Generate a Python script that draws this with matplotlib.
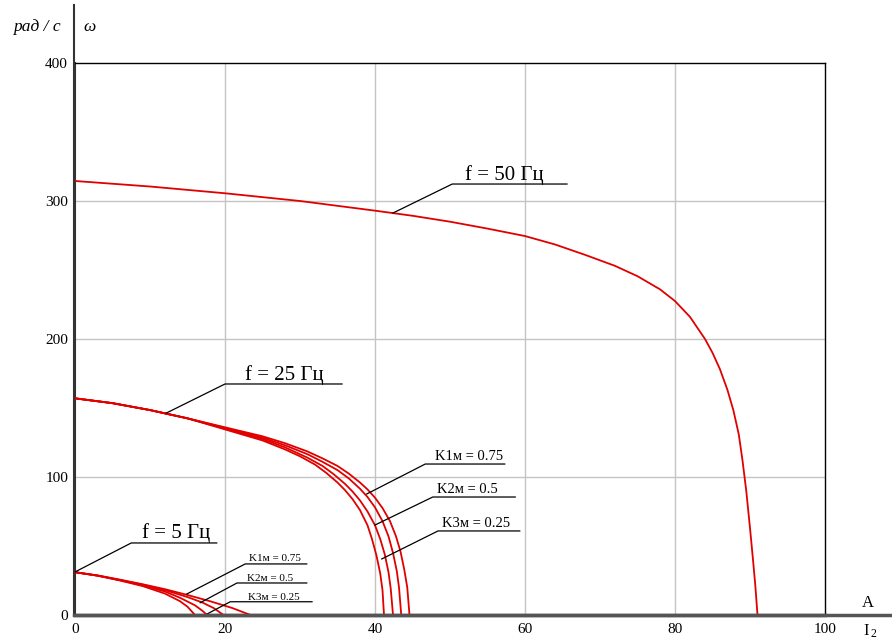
import matplotlib
matplotlib.use("Agg")
import matplotlib.pyplot as plt
from matplotlib.lines import Line2D

plt.rcParams['font.family'] = ['Liberation Serif', 'DejaVu Serif']

# ---------------- data ----------------
x_ticks = [0, 20, 40, 60, 80, 100]
y_ticks = [0, 100, 200, 300, 400]

# f = 50 Hz
f50_x = [0, 10, 20, 30, 40, 45, 50, 55, 60, 64, 68, 72, 75, 78, 80, 82, 84, 85, 86, 87,
         87.8, 88.5, 89, 89.5, 90, 90.4, 90.7, 91]
f50_y = [314.5, 310.5, 305.6, 300, 293, 289.3, 285, 280, 274.6, 268.5, 261, 253, 245.5, 236,
         227.5, 216, 200, 190, 178, 163, 148, 131, 112, 90, 63, 40, 22, 0]

# f = 25 Hz (four curves)
f25_a_x = [0, 5, 10, 15, 20, 25, 28, 31, 33, 35, 36.5, 38, 39, 40, 41, 42, 42.8, 43.4, 43.9, 44.3, 44.6]
f25_a_y = [157, 153.5, 148.5, 142.5, 136, 129.5, 124.5, 118.5, 113.5, 108, 102.5, 96, 91, 85, 77.5, 68, 57, 46, 33, 20, 0]
f25_b_x = [0, 5, 10, 15, 20, 25, 28, 31, 33, 35, 36.5, 38, 39, 40, 41, 41.8, 42.4, 42.9, 43.2, 43.5]
f25_b_y = [157, 153.5, 148.5, 142.5, 135.5, 128.5, 123, 116.5, 111, 105, 99, 91.5, 85.5, 78, 68, 57, 45, 32, 20, 0]
f25_c_x = [0, 5, 10, 15, 20, 25, 28, 31, 33, 34.5, 36, 37, 38, 39, 40, 40.7, 41.3, 41.8, 42.1, 42.4]
f25_c_y = [157, 153.5, 148.5, 142.5, 135, 127.5, 121.5, 114, 108, 102, 95, 89.5, 83, 75, 65, 55, 44, 31, 19, 0]
f25_d_x = [0, 5, 10, 15, 20, 25, 28, 30, 32, 33.5, 35, 36, 37, 38, 39, 39.6, 40.2, 40.7, 41.0, 41.2]
f25_d_y = [157, 153.5, 148.5, 142.5, 134.5, 126.5, 120, 115, 109, 103, 96, 90.5, 84, 76, 65, 55, 43, 30, 18, 0]

# f = 5 Hz (four curves)
f5_a_x = [0, 3, 6, 9, 12, 15, 18, 21, 23.4]
f5_a_y = [31, 28.7, 25.6, 22.3, 18.7, 14.5, 10, 5, 0]
f5_b_x = [0, 3, 6, 9, 12, 15, 17, 18.5, 19.8]
f5_b_y = [31, 28.6, 25.4, 22, 18, 13, 9, 5, 0]
f5_c_x = [0, 3, 6, 9, 12, 14, 16, 17, 17.6]
f5_c_y = [31, 28.5, 25.2, 21.5, 17, 12.5, 7, 3, 0]
f5_d_x = [0, 3, 6, 9, 12, 14, 15, 16]
f5_d_y = [31, 28.5, 25, 21, 15.5, 10, 6, 0]

k_labels = ["K1м = 0.75", "K2м = 0.5", "K3м = 0.25"]
f_labels = ["f = 50 Гц", "f = 25 Гц", "f = 5 Гц"]

# ---------------- figure ----------------
W, H = 892, 639
fig = plt.figure(figsize=(W / 100, H / 100), dpi=100)
ax = fig.add_axes([75 / W, 24 / H, 750 / W, 552 / H])
ax.set_xlim(0, 100)
ax.set_ylim(0, 400)

RED = '#e00000'
lw = 1.3
for xs, ys in [(f50_x, f50_y),
               (f25_a_x, f25_a_y), (f25_b_x, f25_b_y), (f25_c_x, f25_c_y), (f25_d_x, f25_d_y),
               (f5_a_x, f5_a_y), (f5_b_x, f5_b_y), (f5_c_x, f5_c_y), (f5_d_x, f5_d_y)]:
    ax.plot(xs, ys, color=RED, lw=lw, zorder=3, solid_joinstyle='round')

# grid
for gx in x_ticks[1:-1]:
    ax.axvline(gx, color='#c4c4c4', lw=1.0, zorder=1)
for gy in y_ticks[1:-1]:
    ax.axhline(gy, color='#c4c4c4', lw=1.0, zorder=1)

ax.set_xticks(x_ticks)
ax.set_yticks(y_ticks)
ax.set_xticklabels([str(v) for v in x_ticks])
ax.set_yticklabels([str(v) for v in y_ticks])
ax.tick_params(length=0, labelsize=11, pad=5)
ax.tick_params(axis='x', pad=6)

for s in ['top', 'right']:
    ax.spines[s].set_color('black')
    ax.spines[s].set_linewidth(1.0)
ax.spines['left'].set_color('#333333')
ax.spines['left'].set_linewidth(1.5)
ax.spines['bottom'].set_color('#555555')
ax.spines['bottom'].set_linewidth(2.5)

# extended axis lines
fig.add_artist(Line2D([74 / W, 74 / W], [1 - 615 / H, 1 - 5 / H], color='#333333', lw=1.5))
fig.add_artist(Line2D([74 / W, 1.0], [1 - 615 / H, 1 - 615 / H], color='#555555', lw=2.5))

# annotations helper: leader + underline + text
def label(text, p_curve, p_knee, x_end, text_x, text_y, size):
    ax.plot([p_curve[0], p_knee[0], x_end], [p_curve[1], p_knee[1], p_knee[1]],
            color='black', lw=0.9, zorder=4, clip_on=False)
    ax.text(text_x, text_y, text, ha='center', va='baseline', fontsize=size, zorder=5)

label(f_labels[0], (42.4, 291.3), (50.3, 312.3), 65.6, 57.3, 315.5, 15)
label(f_labels[1], (12.2, 146.4), (20.0, 167.4), 35.6, 27.9, 170.5, 15)
label(f_labels[2], (0.0, 31.2), (7.5, 52.2), 18.9, 13.5, 55.5, 15)

label(k_labels[0], (38.9, 87.7), (46.7, 109.4), 57.3, 52.5, 112.5, 10.5)
label(k_labels[1], (40.0, 65.2), (47.7, 85.5), 58.7, 52.3, 88.5, 10.5)
label(k_labels[2], (40.9, 40.6), (48.4, 60.9), 59.3, 53.5, 64.0, 10.5)

label(k_labels[0], (14.9, 15.2), (22.7, 37.0), 30.9, 26.7, 39.0, 8)
label(k_labels[1], (16.7, 8.9), (21.6, 23.2), 30.9, 26.0, 24.6, 8)
label(k_labels[2], (17.6, 0.7), (20.7, 9.6), 31.6, 26.5, 11.2, 8)

# axis labels
fig.text(37 / W, 1 - 27 / H, "рад / с", ha='center', va='center', fontsize=12.5, style='italic')
fig.text(90 / W, 1 - 27 / H, "ω", ha='center', va='center', fontsize=12.5, style='italic')
fig.text(868 / W, 1 - 603 / H, "A", ha='center', va='center', fontsize=12)
fig.text(866 / W, 1 - 631 / H, "I", ha='center', va='center', fontsize=12)
fig.text(873 / W, 1 - 634 / H, "2", ha='center', va='center', fontsize=8.5)

fig.savefig("out.png", dpi=100)
